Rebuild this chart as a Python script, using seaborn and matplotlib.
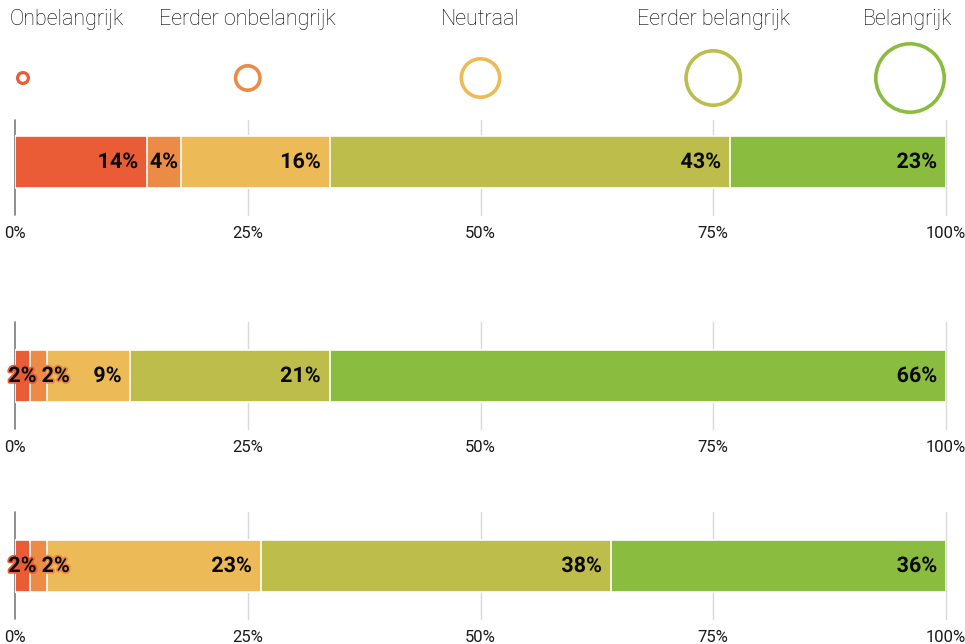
import matplotlib
matplotlib.use('Agg')
import matplotlib.pyplot as plt
import matplotlib.patheffects as pe
from matplotlib.patches import Circle
import seaborn as sns
import pandas as pd
import numpy as np

# ---------------- data ----------------
categories = ["Onbelangrijk", "Eerder onbelangrijk", "Neutraal", "Eerder belangrijk", "Belangrijk"]
colors = ["#E95C35", "#EB8B45", "#ECBA57", "#BCBD4B", "#89BC3F"]
row1 = [14.2, 3.6, 16.0, 43.0, 23.2]
row2 = [1.6, 1.8, 9.0, 21.4, 66.2]
row3 = [1.6, 1.8, 23.0, 37.6, 36.0]
labels1 = ["14%", "4%", "16%", "43%", "23%"]
labels2 = ["2%", "2%", "9%", "21%", "66%"]
labels3 = ["2%", "2%", "23%", "38%", "36%"]
tick_values = [0, 25, 50, 75, 100]
tick_labels = ["0%", "25%", "50%", "75%", "100%"]
legend_radius = [7, 14, 21, 29, 36]

# ---------------- layout ----------------
W, H = 965, 644
X0, X1 = 15, 946
sns.set_theme(style="white")
plt.rcParams["font.family"] = ["Roboto", "DejaVu Sans"]

fig = plt.figure(figsize=(W / 100, H / 100), dpi=100)
fig.patch.set_facecolor("white")


def px_axes(x0, y0, x1, y1):
    return fig.add_axes([x0 / W, 1 - y1 / H, (x1 - x0) / W, (y1 - y0) / H])


rows = [
    (row1, labels1, 120, 136, 215),
    (row2, labels2, 322, 350, 429),
    (row3, labels3, 512, 540, 619),
]

BAR_PX = 52
UNIT = BAR_PX / 0.8
axes = []
for vals, labs, top, bar_top, bottom in rows:
    ax = px_axes(X0, top, X1, bottom)
    cum = np.cumsum(vals)
    # draw stacked bars from the longest cumulative down
    for i in range(len(vals) - 1, -1, -1):
        sns.barplot(x=[cum[i]], y=["r"], color=colors[i], orient="h", width=0.8,
                    saturation=1, edgecolor="white", linewidth=1.2, ax=ax, zorder=2)
    center = bar_top + BAR_PX / 2
    ax.set_ylim((bottom - center) / UNIT, -(center - top) / UNIT)
    ax.set_xlim(0, 100)
    for v in tick_values:
        ax.axvline(v, color="#7a7a7a" if v == 0 else "#d9d9d9", lw=1.2 if v == 0 else 1,
                   zorder=0, clip_on=False)
    ax.set_xticks(tick_values, tick_labels)
    ax.set_yticks([])
    ax.set_xlabel("")
    ax.set_ylabel("")
    ax.tick_params(axis="x", length=0, pad=8, labelsize=12, labelcolor="#1a1a1a")
    for s in ax.spines.values():
        s.set_visible(False)
    ax.patch.set_alpha(0)
    axes.append((ax, vals, labs))

# bar labels
fig.canvas.draw()
renderer = fig.canvas.get_renderer()
for ax, vals, labs in axes:
    cum = np.cumsum(vals)
    px_per_unit = ax.transData.transform((1, 0))[0] - ax.transData.transform((0, 0))[0]
    prev_right = None
    for i, (v, lab) in enumerate(zip(vals, labs)):
        end = cum[i]
        start = end - v
        if v >= 6:
            x, ha = end - 9 / px_per_unit, "right"
        else:
            x, ha = (start + end) / 2, "center"
        t = ax.text(x, 0, lab, ha=ha, va="center", fontsize=15.5, fontweight="bold",
                    color="#0a0a0a", zorder=5,
                    path_effects=[pe.withStroke(linewidth=2.5, foreground=colors[i])])
        bb = t.get_window_extent(renderer)
        if prev_right is not None and bb.x0 < prev_right + 5:
            shift = (prev_right + 5 - bb.x0) / px_per_unit
            t.set_x(x + shift)
            bb = t.get_window_extent(renderer)
        prev_right = bb.x1

# legend (circles at 0/25/50/75/100 %, clamped inside the plot width)
lax = fig.add_axes([0, 0, 1, 1])
lax.set_xlim(0, W)
lax.set_ylim(H, 0)
lax.axis("off")
lax.patch.set_alpha(0)
for i, (cat, col, r) in enumerate(zip(categories, colors, legend_radius)):
    cx = X0 + tick_values[i] / 100 * (X1 - X0)
    cx = min(max(cx, X0 + r + 1), X1 - r)
    lw_px = 3.6 if r > 10 else 3.2
    lax.add_patch(Circle((cx, 78), r - lw_px / 2, fill=False, edgecolor=col,
                         linewidth=lw_px * 0.72))
    lax.text(cx, 19, cat, ha="center", va="center", fontsize=15.5,
             fontweight="light", color="#000000")
fig.canvas.draw()
for t in lax.texts:
    bb = t.get_window_extent(renderer)
    x = t.get_position()[0]
    if bb.x0 < 10:
        t.set_x(x + (10 - bb.x0))
    elif bb.x1 > W - 13:
        t.set_x(x - (bb.x1 - (W - 13)))

fig.savefig("out.png", dpi=100, facecolor="white")
